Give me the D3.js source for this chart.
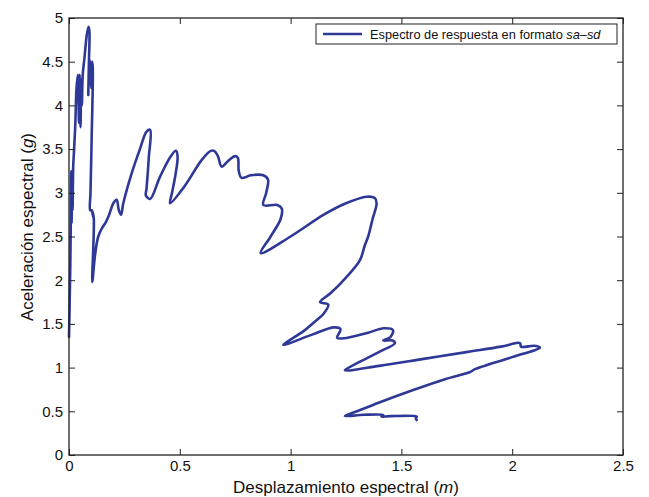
<!DOCTYPE html>
<html>
<head>
<meta charset="utf-8">
<script src="https://cdn.jsdelivr.net/npm/d3@7/dist/d3.min.js"></script>
<style>
  html, body { margin: 0; padding: 0; background: #fff; }
  svg { display: block; font-family: "Liberation Sans", Arial, Helvetica, sans-serif; }
</style>
</head>
<body>
<svg id="chart" width="649" height="497"></svg>
<script>
// ---- data (spectral displacement in m, spectral acceleration in g) ----
const sd = [
  0.000, 0.003, 0.006, 0.008, 0.010, 0.012, 0.014, 0.016, 0.019, 0.022,
  0.028, 0.034, 0.040, 0.045, 0.048, 0.052, 0.055, 0.058, 0.062, 0.070,
  0.080, 0.088, 0.092, 0.090, 0.087, 0.092, 0.096, 0.100, 0.104, 0.107,
  0.102, 0.097, 0.096, 0.103, 0.107, 0.110, 0.107, 0.112, 0.105,
  0.118, 0.132, 0.150, 0.165, 0.180, 0.200, 0.215, 0.225, 0.235, 0.245,
  0.280, 0.320, 0.350, 0.366, 0.360, 0.350, 0.347, 0.366, 0.410, 0.460,
  0.482, 0.490, 0.480, 0.465, 0.456, 0.520, 0.600, 0.640, 0.655, 0.672,
  0.689, 0.720, 0.750, 0.762, 0.766, 0.779, 0.820, 0.877, 0.898, 0.890,
  0.877, 0.940, 0.960, 0.955, 0.910, 0.865, 1.000, 1.150, 1.250, 1.343,
  1.380, 1.388, 1.370, 1.350, 1.335, 1.313, 1.250, 1.180, 1.133, 1.170,
  1.150, 1.118, 1.060, 0.967, 1.100, 1.195, 1.225, 1.210, 1.240, 1.350,
  1.420, 1.462, 1.450, 1.418, 1.460, 1.471, 1.400, 1.300, 1.245, 1.400,
  1.600, 1.800, 1.950, 2.035, 2.040, 2.100, 2.125, 2.000, 1.830, 1.810,
  1.700, 1.550, 1.400, 1.300, 1.245, 1.330, 1.418, 1.410, 1.450, 1.569,
  1.565, 1.569
];
const sa = [
  1.35, 1.75, 2.20, 2.65, 3.25, 2.65, 3.25, 2.80, 3.30, 3.45,
  3.75, 4.20, 4.35, 3.80, 4.35, 3.75, 4.30, 4.00, 4.35, 4.55,
  4.80, 4.90, 4.85, 4.50, 4.12, 4.52, 4.48, 4.20, 4.50, 4.45,
  3.60, 3.00, 2.80, 2.80, 2.75, 2.72, 2.78, 2.70, 1.98,
  2.30, 2.50, 2.60, 2.66, 2.74, 2.88, 2.92, 2.80, 2.75, 2.88,
  3.20, 3.50, 3.70, 3.72, 3.40, 3.05, 2.97, 2.93, 3.18, 3.42,
  3.48, 3.42, 3.20, 3.00, 2.88, 3.07, 3.38, 3.48, 3.48, 3.42,
  3.30, 3.37, 3.42, 3.40, 3.25, 3.17, 3.20, 3.20, 3.15, 3.00,
  2.86, 2.86, 2.82, 2.70, 2.50, 2.31, 2.50, 2.75, 2.88, 2.955,
  2.94, 2.88, 2.70, 2.50, 2.40, 2.23, 2.03, 1.85, 1.75, 1.72,
  1.62, 1.545, 1.42, 1.26, 1.38, 1.46, 1.44, 1.34, 1.335, 1.40,
  1.45, 1.43, 1.35, 1.31, 1.31, 1.28, 1.18, 1.05, 0.97, 1.02,
  1.10, 1.18, 1.24, 1.28, 1.24, 1.25, 1.23, 1.12, 0.98, 0.95,
  0.87, 0.74, 0.60, 0.50, 0.446, 0.46, 0.458, 0.44, 0.445, 0.44,
  0.42, 0.40
];
const xTicks = [0, 0.5, 1, 1.5, 2, 2.5];
const xTickLabels = ["0", "0.5", "1", "1.5", "2", "2.5"];
const yTicks = [0, 0.5, 1, 1.5, 2, 2.5, 3, 3.5, 4, 4.5, 5];
const yTickLabels = ["0", "0.5", "1", "1.5", "2", "2.5", "3", "3.5", "4", "4.5", "5"];
const seriesName = "Espectro de respuesta en formato";

// ---- layout ----
const svg = d3.select("#chart");
const L = 69, R = 623, T = 18, B = 455;
const x = d3.scaleLinear().domain([0, 2.5]).range([L, R]);
const y = d3.scaleLinear().domain([0, 5]).range([B, T]);
const lineColor = "#2e3896";
const tickLen = 6;

// curve
const pts = sd.map((d, i) => [d, sa[i]]);
const line = d3.line().x(d => x(d[0])).y(d => y(d[1])).curve(d3.curveCatmullRom.alpha(0.5));
svg.append("path").attr("d", line(pts))
  .attr("fill", "none").attr("stroke", lineColor).attr("stroke-width", 2.6)
  .attr("stroke-linejoin", "round").attr("stroke-linecap", "round");

// axes (inward ticks)
const axB = d3.axisBottom(x).tickValues(xTicks).tickSize(-tickLen).tickPadding(5)
  .tickFormat((d, i) => xTickLabels[i]);
const axT = d3.axisTop(x).tickValues(xTicks).tickSize(-tickLen).tickFormat("");
const axL = d3.axisLeft(y).tickValues(yTicks).tickSize(-tickLen).tickPadding(6)
  .tickFormat((d, i) => yTickLabels[i]);
const axR = d3.axisRight(y).tickValues(yTicks).tickSize(-tickLen).tickFormat("");

function style(g) {
  g.select(".domain").remove();
  g.selectAll(".tick line").attr("stroke", "#222").attr("stroke-width", 1);
  g.selectAll(".tick text").attr("fill", "#111").style("font-size", "15px")
    .style("font-family", "'Liberation Sans', Arial, sans-serif");
}
svg.append("g").attr("transform", `translate(0,${B})`).call(axB).call(style);
svg.append("g").attr("transform", `translate(0,${T})`).call(axT).call(style);
svg.append("g").attr("transform", `translate(${L},0)`).call(axL).call(style);
svg.append("g").attr("transform", `translate(${R},0)`).call(axR).call(style);

// frame
svg.append("rect").attr("x", L).attr("y", T).attr("width", R - L).attr("height", B - T)
  .attr("fill", "none").attr("stroke", "#222").attr("stroke-width", 1.3);

// axis titles
const xt = svg.append("text").attr("x", (L + R) / 2).attr("y", 493)
  .attr("text-anchor", "middle").style("font-size", "17px").attr("fill", "#111");
xt.append("tspan").text("Desplazamiento espectral (");
xt.append("tspan").style("font-style", "italic").text("m");
xt.append("tspan").text(")");

const yt = svg.append("text").attr("transform", "translate(33,227) rotate(-90)")
  .attr("text-anchor", "middle").style("font-size", "17px").attr("fill", "#111");
yt.append("tspan").text("Aceleración espectral (");
yt.append("tspan").style("font-style", "italic").text("g");
yt.append("tspan").text(")");

// legend
const lg = svg.append("g");
lg.append("rect").attr("x", 316).attr("y", 24).attr("width", 301).attr("height", 20)
  .attr("fill", "#fff").attr("stroke", "#222").attr("stroke-width", 1);
lg.append("line").attr("x1", 323).attr("x2", 362).attr("y1", 34).attr("y2", 34)
  .attr("stroke", lineColor).attr("stroke-width", 2.6);
const lt = lg.append("text").attr("x", 370).attr("y", 38.5).style("font-size", "12.8px").attr("fill", "#111");
lt.append("tspan").text(seriesName + " ");
lt.append("tspan").style("font-style", "italic").text("sa");
lt.append("tspan").text("–");
lt.append("tspan").style("font-style", "italic").text("sd");
</script>
</body>
</html>
